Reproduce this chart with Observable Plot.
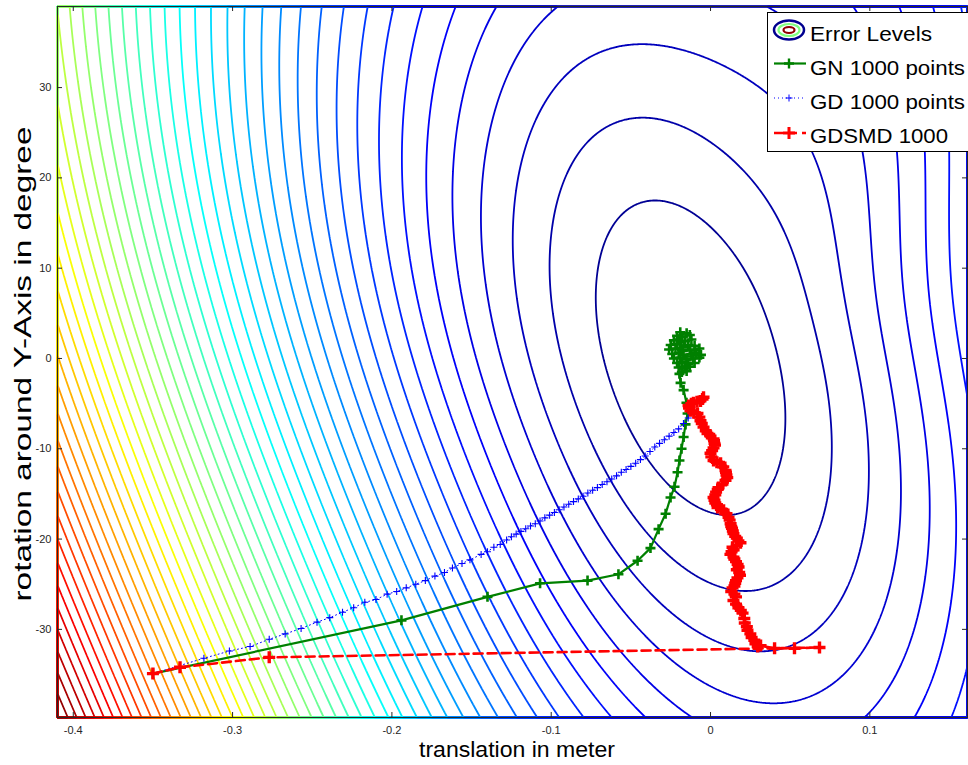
<!DOCTYPE html>
<html><head><meta charset="utf-8">
<script src="https://cdn.jsdelivr.net/npm/d3@7"></script>
<script src="https://cdn.jsdelivr.net/npm/@observablehq/plot@0.6"></script>
<style>body{margin:0;background:#fff} svg{display:block}</style>
</head><body><div id="chart"></div>
<script>
// ---------- axes ----------
const xTicks = [-0.4, -0.3, -0.2, -0.1, 0, 0.1];
const xTickLabels = ["-0.4", "-0.3", "-0.2", "-0.1", "0", "0.1"];
const yTicks = [-30, -20, -10, 0, 10, 20, 30];
const yTickLabels = ["-30", "-20", "-10", "0", "10", "20", "30"];
const xDomain = [-0.4099, 0.1613];
const yDomain = [-39.76, 38.98];
const xTitle = "translation in meter";
const yTitle = "rotation around Y-Axis in degree";

// ---------- error surface (shape) ----------
const errorLevels = [1,2,3,4,5,6,7,8,9,10,11,12,13,14,15,16,17,18,19,20,21,22,23,24,25,
  26,27,28,29,30,31,32,33,34,35,36,37,38,39,40,41,42,43,44,45,46,47,48,49];
const surfCenter = [-0.01256, 0];
const surfNorm = [1593, 9.03];                     // x and rotation normalisation
const surfQuad = [1.2997e-4, -2.989e-5, 4.745e-5]; // tilted quadratic bowl
const surfLobes = [
  {angle: 140, power: 2, gain: 0.3, fade: 10, fadePow: 1},   // steeper towards lower left, far out
  {angle: 295, power: 4, gain: -0.55, fade: 4, fadePow: 2}   // flatter towards upper right, far out
];
const surfPower = 0.87;
const colorDomainMinMax = [0, 50];
const jetStops = [0, 0.125, 0.375, 0.625, 0.875, 1];
const jetColors = ["#000080", "#0000ff", "#00ffff", "#ffff00", "#ff0000", "#800000"];

function errorSurface(x, y) {
  const px = (x - surfCenter[0]) * surfNorm[0], py = (surfCenter[1] - y) * surfNorm[1];
  const q = surfQuad[0] * px * px + 2 * surfQuad[1] * px * py + surfQuad[2] * py * py;
  const phi = Math.atan2(py, px);
  let g = 1;
  for (const L of surfLobes) {
    const c = Math.cos(phi - L.angle * Math.PI / 180);
    const qk = Math.pow(q, L.fadePow);
    const h = qk / (qk + Math.pow(L.fade, L.fadePow));
    if (c > 0) g += L.gain * h * Math.pow(c, L.power);
  }
  return Math.pow(q * g, surfPower);
}

// ---------- GN path ----------
const gnX = [-0.350, -0.194, -0.140, -0.107, -0.0772, -0.0578, -0.0458, -0.0377, -0.0326, -0.0282,
  -0.0251, -0.0226, -0.0207, -0.0195, -0.0182, -0.0169, -0.0157, -0.0144, -0.0151, -0.0169,
  -0.0188, -0.0195,
  -0.019, -0.015, -0.021, -0.018, -0.013, -0.023, -0.020, -0.016, -0.012, -0.025,
  -0.021, -0.017, -0.014, -0.010, -0.026, -0.022, -0.018, -0.013, -0.010, -0.007,
  -0.024, -0.020, -0.017, -0.012, -0.009, -0.006, -0.023, -0.019, -0.015, -0.011,
  -0.007, -0.021, -0.018, -0.014, -0.010, -0.020, -0.016, -0.013, -0.018, -0.015];
const gnY = [-34.9, -29.0, -26.4, -24.9, -24.6, -23.9, -22.4, -21.0, -18.9, -17.2,
  -15.4, -14.2, -12.6, -11.3, -10.0, -8.7, -7.3, -6.1, -4.9, -3.5,
  -2.7, -1.7,
  2.9, 2.8, 2.5, 2.4, 2.6, 2.0, 2.1, 1.9, 2.1, 1.5,
  1.6, 1.4, 1.5, 1.4, 1.0, 1.1, 0.9, 1.0, 0.9, 1.1,
  0.5, 0.6, 0.4, 0.5, 0.6, 0.4, 0.0, 0.1, -0.1, 0.0,
  0.1, -0.5, -0.4, -0.6, -0.5, -1.0, -1.1, -0.9, -1.5, -1.4];

// ---------- GD path ----------
const gdX = [-0.350, -0.318, -0.302, -0.289, -0.277, -0.267, -0.257, -0.247, -0.239, -0.231,
  -0.224, -0.217, -0.210, -0.203, -0.197, -0.191, -0.185, -0.179, -0.173, -0.167,
  -0.162, -0.156, -0.151, -0.144, -0.140, -0.136, -0.132,
  -0.128, -0.125, -0.122, -0.119, -0.116, -0.113, -0.110, -0.107, -0.104, -0.101,
  -0.098, -0.095, -0.092, -0.089, -0.086, -0.083, -0.080, -0.077, -0.074, -0.071,
  -0.068, -0.065, -0.062, -0.059, -0.056, -0.053, -0.050, -0.047, -0.044, -0.041,
  -0.038, -0.035, -0.032, -0.029, -0.026, -0.023, -0.020, -0.017, -0.014];
const gdY = [-34.9, -33.2, -32.4, -31.9, -31.1, -30.5, -29.9, -29.2, -28.7, -28.1,
  -27.6, -27.0, -26.7, -26.1, -25.8, -25.4, -25.0, -24.6, -24.1, -23.7,
  -23.2, -22.7, -22.3, -21.7, -21.4, -20.9, -20.6,
  -20.1, -19.75, -19.45, -19.15, -18.85, -18.55, -18.3, -18.0, -17.65, -17.35,
  -17.05, -16.75, -16.45, -16.15, -15.85, -15.55, -15.25, -14.9, -14.6, -14.3,
  -13.95, -13.65, -13.35, -13.0, -12.6, -12.3, -11.95, -11.6, -11.2, -10.8,
  -10.3, -9.8, -9.4, -9.0, -8.6, -8.2, -7.8, -7.2, -6.6];

// ---------- GDSMD path ----------
const gdsmdX = [-0.350, -0.333, -0.277, 0.0684, 0.0527, 0.0402,
  0.0314, 0.0296, 0.0282, 0.0275, 0.0258, 0.0250, 0.0232, 0.0228, 0.0215, 0.0212,
  0.0201, 0.0190, 0.0175, 0.0160, 0.0144, 0.0160, 0.0150, 0.0130, 0.0138, 0.0150,
  0.0155, 0.0160, 0.0169, 0.0185, 0.0180, 0.0165, 0.0176, 0.0170, 0.0160, 0.0150,
  0.0144, 0.0125, 0.0132, 0.0145, 0.0138, 0.0165, 0.0188, 0.0175, 0.0165, 0.0155,
  0.0144, 0.0140, 0.0135, 0.0130, 0.0126, 0.0120, 0.0113, 0.0100, 0.0082, 0.0065,
  0.0044, 0.0040, 0.0030, 0.0025, 0.0019, 0.0030, 0.0035, 0.0045, 0.0050, 0.0075,
  0.0094, 0.0105, 0.0100, 0.0097, 0.0094, 0.0080, 0.0063, 0.0040, 0.0019, 0.0005,
  0.0000, 0.0010, 0.0019, 0.0028, 0.0025, 0.0022, 0.0019, 0.0000, -0.0019, -0.0030,
  -0.0044, -0.0055, -0.0063, -0.0070, -0.0082, -0.0105, -0.0126, -0.0135, -0.0138, -0.0120,
  -0.0107, -0.0085, -0.0063, -0.0050, -0.0044];
const gdsmdY = [-34.9, -34.2, -33.1, -32.0, -32.1, -32.1,
  -31.8, -31.9, -31.6, -31.2, -30.9, -30.5, -30.1, -29.7, -29.3, -28.8,
  -28.2, -27.9, -27.6, -27.2, -26.8, -26.4, -26.1, -25.8, -25.4, -25.2,
  -24.9, -24.6, -24.3, -24.0, -23.7, -23.4, -23.1, -22.8, -22.5, -22.2,
  -22.0, -21.7, -21.4, -21.2, -20.9, -20.7, -20.4, -20.2, -19.9, -19.7,
  -19.4, -19.1, -18.8, -18.6, -18.3, -17.9, -17.6, -17.2, -16.8, -16.7,
  -16.5, -16.2, -16.0, -15.7, -15.4, -15.1, -14.8, -14.5, -14.3, -13.9,
  -13.5, -13.2, -12.9, -12.6, -12.4, -12.0, -11.6, -11.5, -11.3, -10.9,
  -10.5, -10.2, -9.9, -9.6, -9.4, -9.1, -8.9, -8.6, -8.3, -8.0,
  -7.6, -7.2, -6.9, -6.5, -6.1, -6.0, -5.8, -5.5, -5.2, -5.0,
  -4.9, -4.8, -4.7, -4.5, -4.3];

// ---------- legend ----------
const legendLabels = ["Error Levels", "GN 1000 points", "GD 1000 points", "GDSMD 1000"];

// ---------- build ----------
const toPts = (xs, ys) => xs.map((x, i) => ({x, y: ys[i]}));
const gn = toPts(gnX, gnY), gd = toPts(gdX, gdY), gdsmd = toPts(gdsmdX, gdsmdY);
const plus = {draw(ctx, size) { const r = Math.sqrt(size / Math.PI);
  ctx.moveTo(-r, 0); ctx.lineTo(r, 0); ctx.moveTo(0, -r); ctx.lineTo(0, r); }};
const span = colorDomainMinMax[1] - colorDomainMinMax[0];
const colorDomain = jetStops.map(t => colorDomainMinMax[0] + t * span);

const W = 968, H = 765, ML = 57, MR = 1, MT = 6, MB = 48;
const fw = W - ML - MR, fh = H - MT - MB;
const ink = "#262626";

const chart = Plot.plot({
  width: W, height: H,
  marginLeft: ML, marginRight: MR, marginTop: MT, marginBottom: MB,
  style: {fontFamily: "'Liberation Sans', Arial, sans-serif", fontSize: "11px", color: ink, background: "#fff"},
  x: {domain: xDomain, axis: null},
  y: {domain: yDomain, axis: null},
  color: {type: "linear", domain: colorDomain, range: jetColors, interpolate: "rgb"},
  marks: [
    Plot.contour({x1: xDomain[0], x2: xDomain[1], y1: yDomain[0], y2: yDomain[1],
      value: errorSurface, thresholds: errorLevels, stroke: "value", fill: "none",
      strokeWidth: 1.8, pixelSize: 1}),
    Plot.line(gn, {x: "x", y: "y", stroke: "#008000", strokeWidth: 2.2}),
    Plot.dot(gn, {x: "x", y: "y", symbol: plus, r: 5, stroke: "#008000", strokeWidth: 2.6, fill: "none"}),
    Plot.line(gd, {x: "x", y: "y", stroke: "#0000ff", strokeWidth: 1, strokeDasharray: "1,3"}),
    Plot.dot(gd, {x: "x", y: "y", symbol: plus, r: 3.5, stroke: "#0000ff", strokeWidth: 1.1, fill: "none"}),
    Plot.line(gdsmd, {x: "x", y: "y", stroke: "#ff0000", strokeWidth: 2.6, strokeDasharray: "9,5"}),
    Plot.dot(gdsmd, {x: "x", y: "y", symbol: plus, r: 6, stroke: "#ff0000", strokeWidth: 3.4, fill: "none"}),
    Plot.ruleX(xTicks, {x: d => d, insetTop: fh - 5, stroke: ink}),
    Plot.ruleX(xTicks, {x: d => d, insetBottom: fh - 5, stroke: ink}),
    Plot.ruleY(yTicks, {y: d => d, insetRight: fw - 5, stroke: ink}),
    Plot.ruleY(yTicks, {y: d => d, insetLeft: fw - 5, stroke: ink}),
    Plot.axisX(xTicks, {anchor: "bottom", tickSize: 0, tickPadding: 9, label: null,
      tickFormat: d => xTickLabels[xTicks.indexOf(d)], fontSize: 11}),
    Plot.axisY(yTicks, {anchor: "left", tickSize: 0, tickPadding: 6, label: null,
      tickFormat: d => yTickLabels[yTicks.indexOf(d)], fontSize: 11}),
    Plot.frame({stroke: ink})
  ]
});
document.getElementById("chart").appendChild(chart);

// titles and legend
const svg = d3.select(chart);
const font = "'Liberation Sans', Arial, sans-serif";
svg.append("text").attr("x", 517).attr("y", 757).attr("text-anchor", "middle")
  .attr("font-family", font).attr("font-size", 22).attr("fill", "#000")
  .attr("textLength", 196).attr("lengthAdjust", "spacingAndGlyphs").text(xTitle);
svg.append("text").attr("transform", "translate(31,364) rotate(-90)").attr("text-anchor", "middle")
  .attr("font-family", font).attr("font-size", 24).attr("fill", "#000")
  .attr("textLength", 475).attr("lengthAdjust", "spacingAndGlyphs").text(yTitle);

const lg = svg.append("g");
lg.append("rect").attr("x", 767.5).attr("y", 12.5).attr("width", 202).attr("height", 139)
  .attr("fill", "#fff").attr("stroke", "#000");
// error-level icon
lg.append("ellipse").attr("cx", 789).attr("cy", 30).attr("rx", 15).attr("ry", 9.5).attr("fill", "none").attr("stroke", "#00008f").attr("stroke-width", 2.5);
lg.append("ellipse").attr("cx", 789).attr("cy", 30).attr("rx", 10.5).attr("ry", 6).attr("fill", "none").attr("stroke", "#7fff7f").attr("stroke-width", 2.2);
lg.append("ellipse").attr("cx", 789).attr("cy", 30).attr("rx", 5.5).attr("ry", 3).attr("fill", "none").attr("stroke", "#8f0000").attr("stroke-width", 2.2);
// samples
const sample = (y, color, w, dash, r, mw) => {
  lg.append("line").attr("x1", 774).attr("x2", 806).attr("y1", y).attr("y2", y)
    .attr("stroke", color).attr("stroke-width", w).attr("stroke-dasharray", dash);
  lg.append("path").attr("d", `M${789 - r},${y}H${789 + r}M789,${y - r}V${y + r}`)
    .attr("stroke", color).attr("stroke-width", mw).attr("fill", "none");
};
sample(63.5, "#008000", 2.2, null, 5, 2.4);
sample(98, "#0000ff", 1, "1,3", 3.5, 1);
sample(133, "#ff0000", 2.6, "9,5", 6, 3);
const lens = [122, 155, 155, 138];
const bases = [40.5, 75, 109, 143];
legendLabels.forEach((t, i) => {
  lg.append("text").attr("x", 810).attr("y", bases[i]).attr("text-anchor", "start")
    .attr("font-family", font).attr("font-size", 20).attr("fill", "#000")
    .attr("textLength", lens[i]).attr("lengthAdjust", "spacingAndGlyphs").text(t);
});
</script>
</body></html>
